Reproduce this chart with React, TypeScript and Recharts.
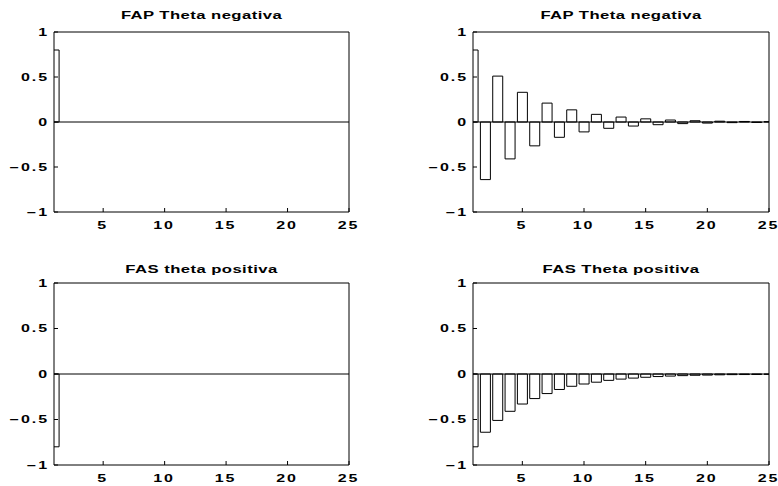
import React from "react";
import { Bar, BarChart, ReferenceLine, XAxis, YAxis } from "recharts";

// lag index on the x axis
const lags = [1, 2, 3, 4, 5, 6, 7, 8, 9, 10, 11, 12, 13, 14, 15, 16, 17, 18, 19, 20, 21, 22, 23, 24, 25];

// values
const fapSpike = [0.8, 0, 0, 0, 0, 0, 0, 0, 0, 0, 0, 0, 0, 0, 0, 0, 0, 0, 0, 0, 0, 0, 0, 0, 0];
const fapDecay = [
  0.8, -0.64, 0.51, -0.41, 0.33, -0.265, 0.21, -0.17, 0.135, -0.11, 0.085, -0.07, 0.055,
  -0.045, 0.035, -0.03, 0.022, -0.018, 0.014, -0.012, 0.009, -0.007, 0.006, -0.005, 0.004,
];
const fasSpike = [-0.8, 0, 0, 0, 0, 0, 0, 0, 0, 0, 0, 0, 0, 0, 0, 0, 0, 0, 0, 0, 0, 0, 0, 0, 0];
const fasDecay = [
  -0.8, -0.64, -0.51, -0.41, -0.33, -0.27, -0.215, -0.17, -0.135, -0.11, -0.09, -0.07, -0.056,
  -0.045, -0.036, -0.028, -0.023, -0.018, -0.014, -0.012, -0.009, -0.007, -0.006, -0.005, -0.004,
];

const titles = ["FAP Theta negativa", "FAP Theta negativa", "FAS theta positiva", "FAS Theta positiva"];
const xTicks = [5, 10, 15, 20, 25];
const topTicks = [5, 10, 15, 20];
const yTicks = [-1, -0.5, 0, 0.5, 1];

const FONT = "'Liberation Sans', Arial, Helvetica, sans-serif";
const SX = 1.6;
const LS = 1.2;

function fmtY(v: number) {
  if (v === 0) return "0";
  return (v < 0 ? "\u2212" : "") + String(Math.abs(v));
}

function XTick(props: any) {
  const { x, y, payload } = props;
  return (
    <text
      transform={`translate(${x - 1.5 + (LS * SX) / 2},${y}) scale(${SX},1)`}
      textAnchor="middle"
      fontFamily={FONT}
      fontSize={10}
      fontWeight="bold"
      letterSpacing={LS}
      fill="#000"
    >
      {payload.value}
    </text>
  );
}

function YTick(props: any) {
  const { x, y, payload } = props;
  return (
    <text
      transform={`translate(${x},${y + 3.6}) scale(${SX},1)`}
      textAnchor="end"
      fontFamily={FONT}
      fontSize={10}
      fontWeight="bold"
      letterSpacing={LS}
      fill="#000"
    >
      {fmtY(payload.value)}
    </text>
  );
}

type Box = { left: number; top: number; right: number; bottom: number };

type PanelProps = {
  values: number[];
  cx: number;
  cy: number;
  box: Box;
};

const CW = 389;
const CH = 243;

function Panel({ values, cx, cy, box }: PanelProps) {
  const rows = lags.map((lag, i) => ({ lag, v: values[i] }));
  const margin = {
    top: box.top - cy - 1,
    bottom: cy + CH - box.bottom - 1,
    left: 0,
    right: cx + CW - box.right - 1,
  };
  return (
    <div style={{ position: "absolute", left: cx, top: cy, width: CW, height: CH }}>
      <BarChart width={CW} height={CH} data={rows} margin={margin}>
        <XAxis
          dataKey="lag"
          type="number"
          domain={[1, 25]}
          ticks={xTicks}
          interval={0}
          allowDataOverflow
          height={1}
          tickSize={-4}
          tickMargin={21}
          stroke="#000"
          tick={<XTick />}
        />
        <XAxis
          xAxisId="top"
          dataKey="lag"
          type="number"
          orientation="top"
          domain={[1, 25]}
          ticks={topTicks}
          interval={0}
          height={1}
          tickSize={-4}
          stroke="#000"
          tick={false}
        />
        <YAxis
          type="number"
          domain={[-1, 1]}
          ticks={yTicks}
          interval={0}
          width={box.left - cx}
          tickSize={-4}
          tickMargin={9}
          stroke="#000"
          tick={<YTick />}
        />
        <YAxis
          yAxisId="right"
          orientation="right"
          type="number"
          domain={[-1, 1]}
          ticks={yTicks}
          interval={0}
          width={1}
          tickSize={-4}
          stroke="#000"
          tick={false}
        />
        <ReferenceLine y={0} stroke="#000" strokeWidth={1} />
        <Bar
          dataKey="v"
          fill="#fff"
          stroke="#000"
          strokeWidth={1}
          isAnimationActive={false}
        />
      </BarChart>
    </div>
  );
}

const panels = [
  { values: fapSpike, cx: 0, cy: 0, box: { left: 54, top: 32, right: 349, bottom: 212 }, titleY: 18.5 },
  { values: fapDecay, cx: CW, cy: 0, box: { left: 473, top: 32, right: 769, bottom: 212 }, titleY: 18.5 },
  { values: fasSpike, cx: 0, cy: CH, box: { left: 54, top: 283, right: 349, bottom: 465 }, titleY: 272.5 },
  { values: fasDecay, cx: CW, cy: CH, box: { left: 473, top: 283, right: 769, bottom: 465 }, titleY: 272.5 },
];

export default function App() {
  return (
    <div
      style={{
        position: "absolute",
        left: 0,
        top: 0,
        width: 778,
        height: 486,
        background: "#fff",
        overflow: "hidden",
      }}
    >
      {panels.map((p, i) => (
        <Panel key={i} values={p.values} cx={p.cx} cy={p.cy} box={p.box} />
      ))}
      <svg
        width={778}
        height={486}
        style={{ position: "absolute", left: 0, top: 0, pointerEvents: "none" }}
      >
        {panels.map((p, i) => (
          <text
            key={i}
            transform={`translate(${(p.box.left + p.box.right) / 2},${p.titleY}) scale(1.45,1)`}
            textAnchor="middle"
            fontFamily={FONT}
            fontSize={11.5}
            fontWeight="bold"
            letterSpacing={0.3}
            fill="#000"
          >
            {titles[i]}
          </text>
        ))}
      </svg>
    </div>
  );
}
